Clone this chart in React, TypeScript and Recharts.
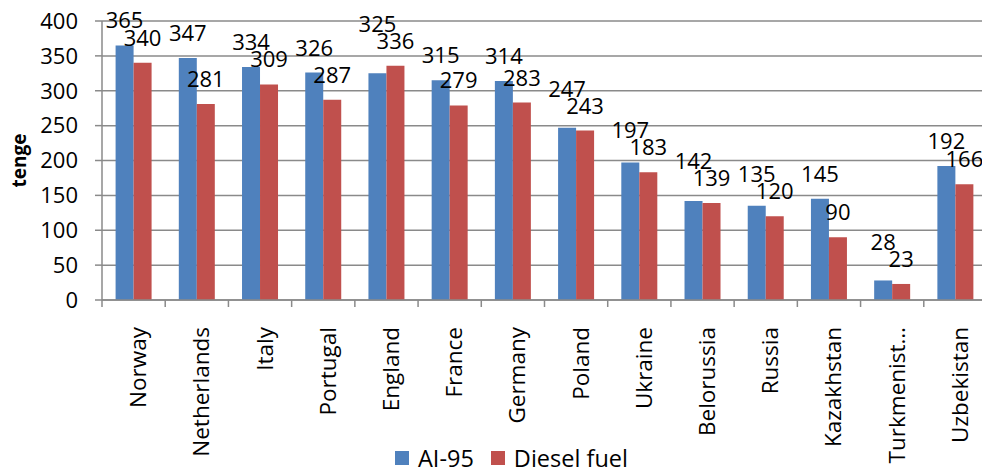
import React from 'react';
import { BarChart, Bar, XAxis, YAxis, CartesianGrid, Legend, LabelList } from 'recharts';

const countries = [
  'Norway', 'Netherlands', 'Italy', 'Portugal', 'England', 'France', 'Germany',
  'Poland', 'Ukraine', 'Belorussia', 'Russia', 'Kazakhstan', 'Turkmenist…', 'Uzbekistan',
];
const ai95 = [365, 347, 334, 326, 325, 315, 314, 247, 197, 142, 135, 145, 28, 192];
const diesel = [340, 281, 309, 287, 336, 279, 283, 243, 183, 139, 120, 90, 23, 166];
const yTicks = [0, 50, 100, 150, 200, 250, 300, 350, 400];

const data = countries.map((name, i) => ({ name, ai95: ai95[i], diesel: diesel[i] }));

const FONT = '"Open Sans", sans-serif';
const GRID = '#8a8a8a';
const BLUE = '#4F81BD';
const RED = '#C0504D';
// plot runs a few px past the right edge of the picture, as in the original
const CHART_W = 987;
const BAND = (CHART_W - 102) / countries.length;
const LABEL_OFFSET = 17;
const LABEL_STEP = 17;

function CountryTick({ x, y, payload }: any) {
  return (
    <g>
      <line x1={x - BAND / 2} x2={x - BAND / 2} y1={y} y2={y + 7} stroke={GRID} strokeWidth={1.5} />
      <text
        transform={`translate(${x + 4},${y + 27}) rotate(-90)`}
        textAnchor="end"
        dominantBaseline="central"
        fontFamily={FONT}
        fontSize={22.5}
        fill="#000"
      >
        {payload.value}
      </text>
    </g>
  );
}

// blue labels get pushed up when they would sit on top of the diesel label (like Excel does)
function Ai95Label({ x, y, width, height, value, index }: any) {
  const base = y + height;
  const perUnit = value ? height / value : 0;
  const redTop = base - diesel[index] * perUnit;
  let ty = y - LABEL_OFFSET;
  const redLabel = redTop - LABEL_OFFSET;
  if (ty > redLabel - LABEL_STEP) ty = redLabel - LABEL_STEP;
  return (
    <text x={x + width / 2} y={ty} textAnchor="middle" fontFamily={FONT} fontSize={22} fill="#000">
      {value}
    </text>
  );
}

function FuelLegend() {
  const item = (color: string, text: string, gap: number) => (
    <span style={{ display: 'inline-flex', alignItems: 'center', marginRight: gap }}>
      <span style={{ width: 14, height: 14, background: color, display: 'inline-block', marginRight: 9 }} />
      <span>{text}</span>
    </span>
  );
  return (
    <div style={{ fontFamily: FONT, fontSize: 23.5, color: '#000', whiteSpace: 'nowrap', lineHeight: '26px' }}>
      {item(BLUE, 'AI-95', 17)}
      {item(RED, 'Diesel fuel', 0)}
    </div>
  );
}

export default function App() {
  return (
    <div style={{ width: 982, height: 469, overflow: 'hidden', background: '#fff' }}>
      <style>{'body{margin:0}'}</style>
      <BarChart
        width={CHART_W}
        height={469}
        data={data}
        margin={{ top: 21, right: 0, left: 0, bottom: 0 }}
        barCategoryGap="21.5%"
        barGap={0}
      >
        <CartesianGrid vertical={false} stroke={GRID} strokeWidth={1.5} />
        <XAxis
          dataKey="name"
          interval={0}
          tickLine={false}
          tickSize={0}
          tickMargin={0}
          height={141}
          stroke={GRID}
          strokeWidth={1.5}
          tick={<CountryTick />}
        />
        <YAxis
          domain={[0, 400]}
          ticks={yTicks}
          width={102}
          tickSize={7}
          tickMargin={17}
          stroke={GRID}
          strokeWidth={1.5}
          tick={{ fill: '#000', fontFamily: FONT, fontSize: 22 }}
          label={{
            value: 'tenge',
            angle: -90,
            position: 'insideLeft',
            offset: 19,
            style: { fontFamily: FONT, fontSize: 19, fontWeight: 'bold', fill: '#000', textAnchor: 'middle' },
          }}
        />
        <Legend
          verticalAlign="bottom"
          content={<FuelLegend />}
          wrapperStyle={{ left: 395, bottom: -2, width: 'auto' }}
        />
        <Bar dataKey="ai95" name="AI-95" fill={BLUE} isAnimationActive={false}>
          <LabelList dataKey="ai95" content={<Ai95Label />} />
        </Bar>
        <Bar dataKey="diesel" name="Diesel fuel" fill={RED} isAnimationActive={false}>
          <LabelList dataKey="diesel" position="top" offset={LABEL_OFFSET} fill="#000" fontFamily={FONT} fontSize={22} />
        </Bar>
      </BarChart>
    </div>
  );
}
